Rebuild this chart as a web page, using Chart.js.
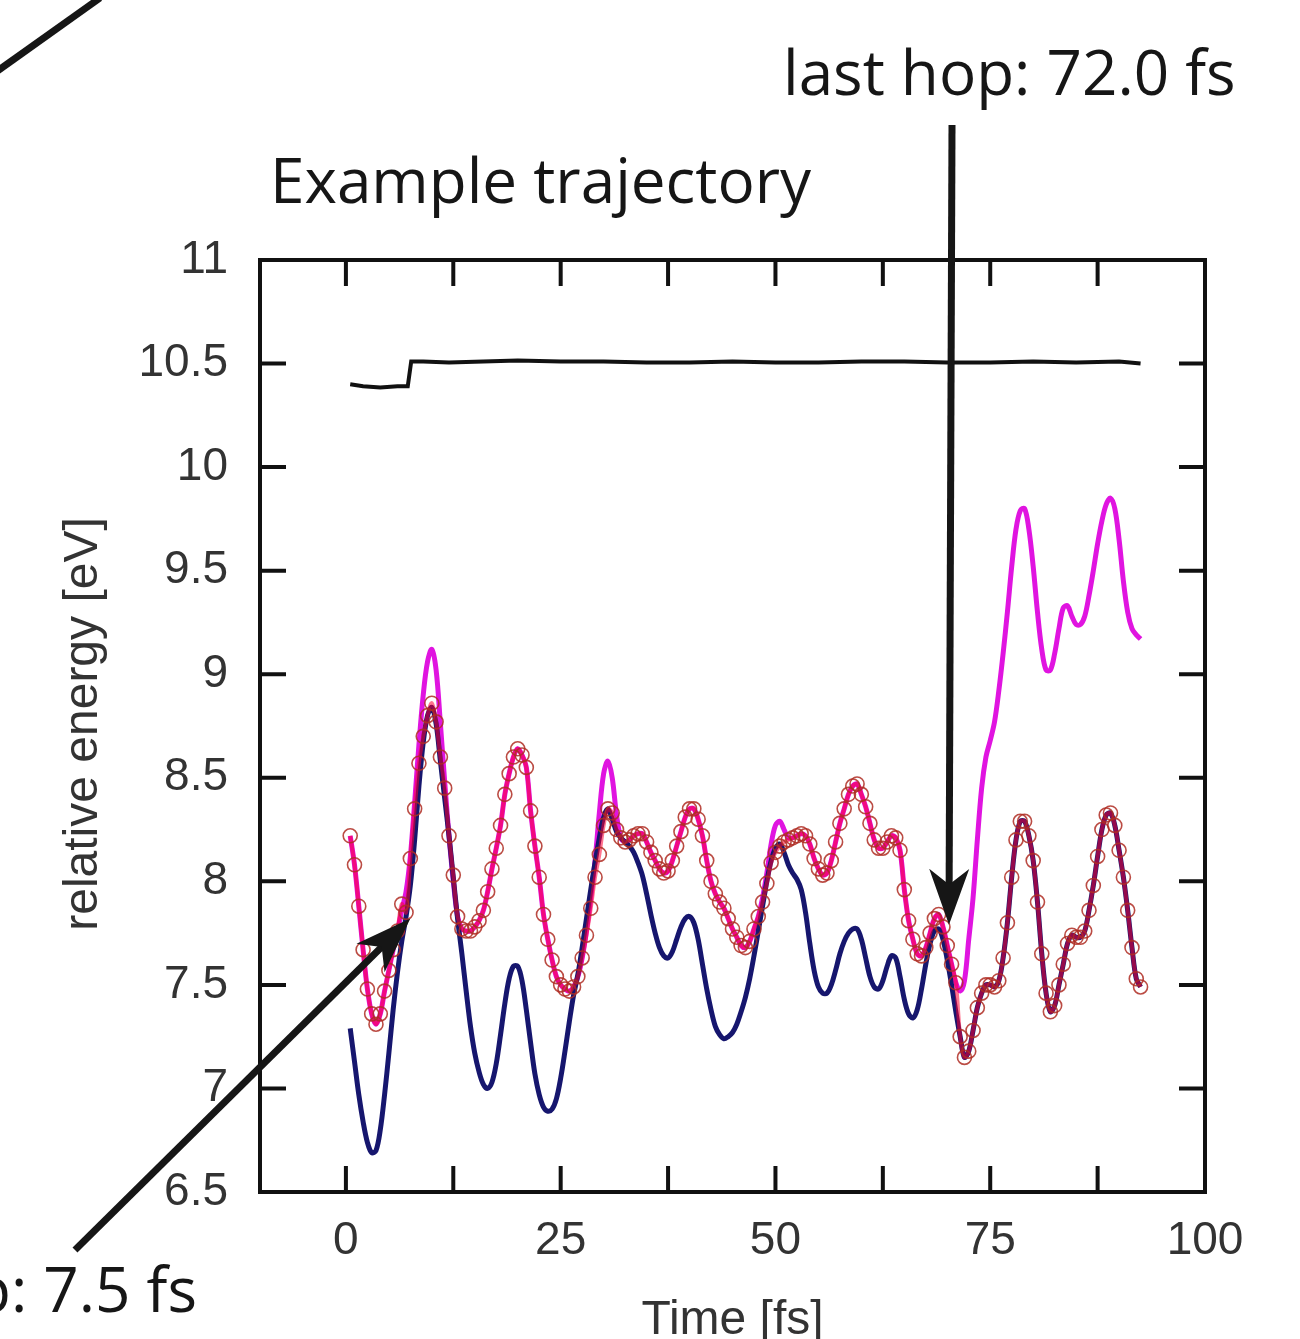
<!DOCTYPE html>
<html>
<head>
<meta charset="utf-8">
<title>Example trajectory</title>
<script src="https://cdn.jsdelivr.net/npm/chart.js@4.4.1/dist/chart.umd.min.js"></script>
<style>
    html, body { margin: 0; padding: 0; background: #fff; }
    #wrap { width: 1300px; height: 1339px; overflow: hidden; }
</style>
</head>
<body>
<div id="wrap"><canvas id="chart" width="1300" height="1339"></canvas></div>
<script>
// time grid of the trajectory [fs], 0.5 fs steps
const times = [
    0.5, 1.0, 1.5, 2.0, 2.5, 3.0, 3.5, 4.0, 4.5, 5.0,
    5.5, 6.0, 6.5, 7.0, 7.5, 8.0, 8.5, 9.0, 9.5, 10.0,
    10.5, 11.0, 11.5, 12.0, 12.5, 13.0, 13.5, 14.0, 14.5, 15.0,
    15.5, 16.0, 16.5, 17.0, 17.5, 18.0, 18.5, 19.0, 19.5, 20.0,
    20.5, 21.0, 21.5, 22.0, 22.5, 23.0, 23.5, 24.0, 24.5, 25.0,
    25.5, 26.0, 26.5, 27.0, 27.5, 28.0, 28.5, 29.0, 29.5, 30.0,
    30.5, 31.0, 31.5, 32.0, 32.5, 33.0, 33.5, 34.0, 34.5, 35.0,
    35.5, 36.0, 36.5, 37.0, 37.5, 38.0, 38.5, 39.0, 39.5, 40.0,
    40.5, 41.0, 41.5, 42.0, 42.5, 43.0, 43.5, 44.0, 44.5, 45.0,
    45.5, 46.0, 46.5, 47.0, 47.5, 48.0, 48.5, 49.0, 49.5, 50.0,
    50.5, 51.0, 51.5, 52.0, 52.5, 53.0, 53.5, 54.0, 54.5, 55.0,
    55.5, 56.0, 56.5, 57.0, 57.5, 58.0, 58.5, 59.0, 59.5, 60.0,
    60.5, 61.0, 61.5, 62.0, 62.5, 63.0, 63.5, 64.0, 64.5, 65.0,
    65.5, 66.0, 66.5, 67.0, 67.5, 68.0, 68.5, 69.0, 69.5, 70.0,
    70.5, 71.0, 71.5, 72.0, 72.5, 73.0, 73.5, 74.0, 74.5, 75.0,
    75.5, 76.0, 76.5, 77.0, 77.5, 78.0, 78.5, 79.0, 79.5, 80.0,
    80.5, 81.0, 81.5, 82.0, 82.5, 83.0, 83.5, 84.0, 84.5, 85.0,
    85.5, 86.0, 86.5, 87.0, 87.5, 88.0, 88.5, 89.0, 89.5, 90.0,
    90.5, 91.0, 91.5, 92.0, 92.5
];

// lower state (navy)
const stateLow = [
    7.29, 7.13, 6.97, 6.84, 6.74, 6.69, 6.70, 6.80, 6.97, 7.17,
    7.38, 7.56, 7.71, 7.83, 7.98, 8.20, 8.46, 8.67, 8.80, 8.84,
    8.76, 8.58, 8.40, 8.22, 8.02, 7.82, 7.65, 7.47, 7.30, 7.17,
    7.08, 7.02, 7.00, 7.03, 7.12, 7.26, 7.41, 7.53, 7.59, 7.59,
    7.52, 7.38, 7.22, 7.07, 6.97, 6.91, 6.89, 6.90, 6.95, 7.05,
    7.18, 7.32, 7.45, 7.55, 7.68, 7.82, 7.96, 8.09, 8.21, 8.31,
    8.35, 8.30, 8.24, 8.21, 8.19, 8.17, 8.14, 8.09, 8.03, 7.94,
    7.84, 7.75, 7.68, 7.64, 7.63, 7.66, 7.72, 7.78, 7.82, 7.83,
    7.80, 7.72, 7.60, 7.48, 7.38, 7.30, 7.26, 7.24, 7.25, 7.27,
    7.31, 7.37, 7.44, 7.53, 7.64, 7.76, 7.88, 8.00, 8.10, 8.16,
    8.18, 8.14, 8.08, 8.04, 8.01, 7.96, 7.85, 7.70, 7.57, 7.49,
    7.46, 7.46, 7.50, 7.57, 7.65, 7.71, 7.75, 7.77, 7.77, 7.72,
    7.63, 7.54, 7.49, 7.48, 7.52, 7.59, 7.64, 7.63, 7.54, 7.43,
    7.36, 7.34, 7.38, 7.48, 7.60, 7.70, 7.76, 7.77, 7.72, 7.62,
    7.50, 7.37, 7.25, 7.15, 7.18, 7.28, 7.39, 7.46, 7.50, 7.50,
    7.49, 7.52, 7.63, 7.80, 8.02, 8.20, 8.29, 8.29, 8.22, 8.10,
    7.90, 7.65, 7.46, 7.37, 7.40, 7.50, 7.60, 7.70, 7.74, 7.73,
    7.73, 7.76, 7.86, 7.98, 8.12, 8.25, 8.32, 8.33, 8.27, 8.15,
    8.02, 7.86, 7.68, 7.53, 7.49
];

// upper state (magenta)
const stateHigh = [
    8.22, 8.08, 7.88, 7.67, 7.48, 7.36, 7.31, 7.36, 7.47, 7.57,
    7.67, 7.76, 7.86, 7.95, 8.12, 8.38, 8.66, 8.90, 9.06, 9.12,
    9.02, 8.76, 8.48, 8.22, 8.00, 7.83, 7.77, 7.76, 7.76, 7.78,
    7.81, 7.86, 7.95, 8.06, 8.16, 8.27, 8.42, 8.52, 8.60, 8.64,
    8.61, 8.55, 8.34, 8.17, 8.02, 7.84, 7.72, 7.62, 7.54, 7.50,
    7.48, 7.47, 7.49, 7.54, 7.63, 7.76, 7.92, 8.10, 8.33, 8.52,
    8.58, 8.50, 8.32, 8.21, 8.19, 8.20, 8.22, 8.23, 8.23, 8.19,
    8.14, 8.10, 8.06, 8.04, 8.05, 8.10, 8.17, 8.24, 8.31, 8.35,
    8.35, 8.30, 8.22, 8.10, 8.00, 7.94, 7.90, 7.87, 7.82, 7.77,
    7.73, 7.69, 7.68, 7.71, 7.77, 7.83, 7.92, 8.04, 8.18, 8.27,
    8.29, 8.25, 8.21, 8.21, 8.22, 8.23, 8.22, 8.18, 8.11, 8.06,
    8.03, 8.04, 8.10, 8.19, 8.28, 8.35, 8.42, 8.46, 8.47, 8.42,
    8.36, 8.28, 8.20, 8.16, 8.16, 8.19, 8.22, 8.21, 8.15, 7.96,
    7.81, 7.72, 7.65, 7.64, 7.68, 7.75, 7.82, 7.84, 7.78, 7.69,
    7.60, 7.51, 7.47, 7.52, 7.72, 7.92, 8.20, 8.45, 8.60, 8.68,
    8.77, 8.92, 9.10, 9.30, 9.52, 9.70, 9.79, 9.80, 9.70, 9.52,
    9.30, 9.12, 9.02, 9.02, 9.10, 9.22, 9.32, 9.33, 9.28, 9.24,
    9.24, 9.28, 9.38, 9.50, 9.63, 9.74, 9.82, 9.85, 9.80, 9.65,
    9.45, 9.30, 9.22, 9.19, 9.17
];

// currently populated state (circles)
const activeState = [
    8.22, 8.08, 7.88, 7.67, 7.48, 7.36, 7.31, 7.36, 7.47, 7.57,
    7.67, 7.76, 7.89, 7.85, 8.11, 8.35, 8.57, 8.70, 8.80, 8.86,
    8.77, 8.60, 8.45, 8.22, 8.03, 7.83, 7.77, 7.76, 7.76, 7.78,
    7.81, 7.86, 7.95, 8.06, 8.16, 8.27, 8.42, 8.52, 8.60, 8.64,
    8.61, 8.55, 8.34, 8.17, 8.02, 7.84, 7.72, 7.62, 7.54, 7.50,
    7.48, 7.47, 7.49, 7.54, 7.63, 7.74, 7.87, 8.02, 8.13, 8.27,
    8.35, 8.33, 8.25, 8.21, 8.19, 8.20, 8.22, 8.23, 8.23, 8.19,
    8.14, 8.10, 8.06, 8.04, 8.05, 8.10, 8.17, 8.24, 8.31, 8.35,
    8.35, 8.30, 8.22, 8.10, 8.00, 7.94, 7.90, 7.87, 7.82, 7.77,
    7.73, 7.69, 7.68, 7.71, 7.77, 7.83, 7.90, 7.99, 8.09, 8.14,
    8.17, 8.19, 8.20, 8.21, 8.22, 8.23, 8.22, 8.18, 8.11, 8.06,
    8.03, 8.04, 8.10, 8.19, 8.28, 8.35, 8.42, 8.46, 8.47, 8.42,
    8.36, 8.28, 8.20, 8.16, 8.16, 8.19, 8.22, 8.21, 8.15, 7.96,
    7.81, 7.72, 7.65, 7.64, 7.68, 7.75, 7.82, 7.84, 7.78, 7.69,
    7.60, 7.51, 7.25, 7.15, 7.18, 7.28, 7.39, 7.46, 7.50, 7.50,
    7.49, 7.52, 7.63, 7.80, 8.02, 8.20, 8.29, 8.29, 8.22, 8.10,
    7.90, 7.65, 7.46, 7.37, 7.40, 7.50, 7.60, 7.70, 7.74, 7.73,
    7.73, 7.76, 7.86, 7.98, 8.12, 8.25, 8.32, 8.33, 8.27, 8.15,
    8.02, 7.86, 7.68, 7.53, 7.49
];

// highest state (black), sampled coarser
const topTimes = [0.5, 2, 4, 6, 7.2, 7.6, 9, 12, 16, 20, 25, 30, 35, 40, 45, 50, 55, 60, 65, 70, 75, 80, 85, 90, 92.5];
const stateTop = [10.40, 10.39, 10.385, 10.39, 10.39, 10.51, 10.51, 10.505, 10.51, 10.515, 10.51, 10.51, 10.505,
                  10.505, 10.51, 10.505, 10.505, 10.51, 10.51, 10.505, 10.505, 10.51, 10.505, 10.51, 10.50];

// axis ticks
const xTicks = [0, 12.5, 25, 37.5, 50, 62.5, 75, 87.5, 100];
const xTickLabels = [0, 25, 50, 75, 100];
const yTicks = [6.5, 7, 7.5, 8, 8.5, 9, 9.5, 10, 10.5, 11];
const hopTimes = [7.5, 72.0];

function toPoints(xs, ys) {
    return xs.map((x, i) => ({ x: x, y: ys[i] }));
}

// desenhar seta com ponta entalhada
function drawArrow(ctx, x0, y0, x1, y1) {
    const dx = x1 - x0, dy = y1 - y0;
    const len = Math.sqrt(dx * dx + dy * dy);
    const ux = dx / len, uy = dy / len;
    const nx = -uy, ny = ux;
    const L = 56, W = 20;
    ctx.save();
    ctx.strokeStyle = '#161616';
    ctx.fillStyle = '#161616';
    ctx.lineWidth = 7;
    ctx.beginPath();
    ctx.moveTo(x0, y0);
    ctx.lineTo(x1 - ux * L * 0.6, y1 - uy * L * 0.6);
    ctx.stroke();
    ctx.beginPath();
    ctx.moveTo(x1, y1);
    ctx.lineTo(x1 - ux * L + nx * W, y1 - uy * L + ny * W);
    ctx.lineTo(x1 - ux * L * 0.72, y1 - uy * L * 0.72);
    ctx.lineTo(x1 - ux * L - nx * W, y1 - uy * L - ny * W);
    ctx.closePath();
    ctx.fill();
    ctx.restore();
}

const framePlugin = {
    id: 'framePlugin',
    afterDraw(chart) {
        const ctx = chart.ctx;
        const a = chart.chartArea;
        const xs = chart.scales.x, ys = chart.scales.y;
        const tickLen = 26;

        ctx.save();
        ctx.strokeStyle = '#111';
        ctx.lineWidth = 4;
        // ticks internos
        ctx.beginPath();
        xs.ticks.forEach(t => {
            if (t.value <= xs.min || t.value >= xs.max) return;
            const px = xs.getPixelForValue(t.value);
            ctx.moveTo(px, a.bottom); ctx.lineTo(px, a.bottom - tickLen);
            ctx.moveTo(px, a.top); ctx.lineTo(px, a.top + tickLen);
        });
        ys.ticks.forEach(t => {
            if (t.value <= ys.min || t.value >= ys.max) return;
            const py = ys.getPixelForValue(t.value);
            ctx.moveTo(a.left, py); ctx.lineTo(a.left + tickLen, py);
            ctx.moveTo(a.right, py); ctx.lineTo(a.right - tickLen, py);
        });
        ctx.stroke();
        // moldura
        ctx.strokeRect(a.left, a.top, a.right - a.left, a.bottom - a.top);

        // titulos dos eixos
        ctx.fillStyle = '#333';
        ctx.font = '48px "Liberation Sans", Arial, sans-serif';
        ctx.textAlign = 'center';
        ctx.textBaseline = 'alphabetic';
        ctx.fillText('Time [fs]', (a.left + a.right) / 2, 1334);
        ctx.save();
        ctx.translate(97, (a.top + a.bottom) / 2 - 2);
        ctx.rotate(-Math.PI / 2);
        ctx.fillText('relative energy [eV]', 0, 0);
        ctx.restore();

        // titulo e notas dos saltos
        ctx.fillStyle = '#161616';
        ctx.font = '62px "Open Sans", sans-serif';
        ctx.textAlign = 'left';
        ctx.fillText('Example trajectory', 270, 203);
        ctx.fillText('last hop: ' + hopTimes[1].toFixed(1) + ' fs', 783, 95);
        ctx.textAlign = 'right';
        ctx.fillText('first hop: ' + hopTimes[0].toFixed(1) + ' fs', 197, 1312);

        // setas
        drawArrow(ctx, 75, 1250, xs.getPixelForValue(7.5), ys.getPixelForValue(7.82));
        drawArrow(ctx, 952, 125, xs.getPixelForValue(70.2), ys.getPixelForValue(7.79));
        ctx.strokeStyle = '#161616';
        ctx.lineWidth = 7;
        ctx.beginPath();
        ctx.moveTo(-4, 72);
        ctx.lineTo(100, -2);
        ctx.stroke();
        ctx.restore();
    }
};

const ctx = document.getElementById('chart').getContext('2d');
const chart = new Chart(ctx, {
    type: 'line',
    data: {
        datasets: [
            {
                label: 'S3',
                data: toPoints(topTimes, stateTop),
                borderColor: '#111',
                borderWidth: 4,
                pointRadius: 0,
                tension: 0,
                order: 4
            },
            {
                label: 'S2',
                data: toPoints(times, stateHigh),
                borderColor: '#e014e0',
                borderWidth: 5,
                pointRadius: 0,
                tension: 0.35,
                order: 3
            },
            {
                label: 'S1',
                data: toPoints(times, stateLow),
                borderColor: '#16166e',
                borderWidth: 5,
                pointRadius: 0,
                tension: 0.35,
                order: 2
            },
            {
                label: 'active',
                data: toPoints(times, activeState),
                borderColor: 'rgba(255, 0, 50, 0.55)',
                borderWidth: 4,
                pointRadius: 7,
                pointBorderWidth: 1.6,
                pointBorderColor: 'rgba(175, 45, 35, 0.85)',
                pointBackgroundColor: 'rgba(0, 0, 0, 0)',
                tension: 0.35,
                order: 1
            }
        ]
    },
    options: {
        responsive: false,
        animation: false,
        events: [],
        layout: { padding: { left: 0, top: 260, right: 95, bottom: 0 } },
        plugins: {
            legend: { display: false },
            title: { display: false },
            tooltip: { enabled: false }
        },
        scales: {
            x: {
                type: 'linear',
                min: -10,
                max: 100,
                grid: { display: false, drawTicks: false },
                border: { display: false },
                afterFit: s => { s.height = 147; },
                afterBuildTicks: s => { s.ticks = xTicks.map(v => ({ value: v })); },
                ticks: {
                    autoSkip: false,
                    maxRotation: 0,
                    padding: 22,
                    color: '#333',
                    font: { family: '"Liberation Sans", Arial, sans-serif', size: 46 },
                    callback: v => xTickLabels.includes(v) ? String(v) : ''
                }
            },
            y: {
                min: 6.5,
                max: 11,
                grid: { display: false, drawTicks: false },
                border: { display: false },
                afterFit: s => { s.width = 260; },
                afterBuildTicks: s => { s.ticks = yTicks.map(v => ({ value: v })); },
                ticks: {
                    autoSkip: false,
                    padding: 32,
                    color: '#333',
                    font: { family: '"Liberation Sans", Arial, sans-serif', size: 46 },
                    callback: v => String(v)
                }
            }
        }
    },
    plugins: [framePlugin]
});
</script>
</body>
</html>
